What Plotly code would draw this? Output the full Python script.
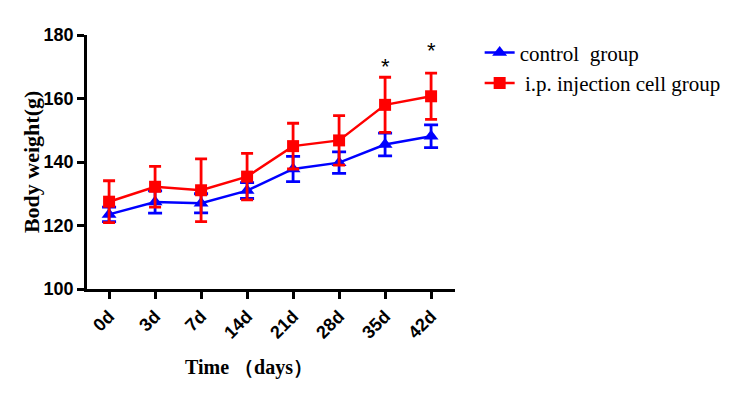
import plotly.graph_objects as go

days = ["0d", "3d", "7d", "14d", "21d", "28d", "35d", "42d"]
control_mean = [123.5, 127.4, 127.0, 131.0, 137.8, 139.8, 145.5, 148.1]
control_err = [2.3, 3.5, 3.0, 2.5, 4.0, 3.4, 3.6, 3.6]
ip_mean = [127.5, 132.2, 131.1, 135.4, 145.0, 146.8, 158.0, 160.7]
ip_err = [6.6, 6.4, 9.9, 7.3, 7.2, 7.8, 8.7, 7.3]
star_days = ["35d", "42d"]
star_y = [170.0, 175.2]

fig = go.Figure()
fig.add_trace(go.Scatter(
    x=days, y=control_mean, name="control  group", mode="lines+markers",
    line=dict(color="#0000FF", width=2.5),
    marker=dict(symbol="triangle-up", size=13, color="#0000FF"),
    error_y=dict(type="data", array=control_err, color="#0000FF", thickness=2.8, width=7),
))
fig.add_trace(go.Scatter(
    x=days, y=ip_mean, name=" i.p. injection cell group", mode="lines+markers",
    line=dict(color="#FF0000", width=2.5),
    marker=dict(symbol="square", size=12, color="#FF0000"),
    error_y=dict(type="data", array=ip_err, color="#FF0000", thickness=2.8, width=6),
))
for d, yv in zip(star_days, star_y):
    fig.add_annotation(x=d, y=yv, text="*", showarrow=False,
                       font=dict(family="Liberation Sans", size=22, color="black"))

fig.add_annotation(text="Body weight(g)", xref="paper", yref="paper",
                   x=-0.152, y=0.5, xanchor="center", yanchor="middle",
                   textangle=-90, showarrow=False,
                   font=dict(family="Liberation Serif", size=22, color="black", weight="bold"))
fig.add_annotation(text="Time （days）", xref="paper", yref="paper",
                   x=0.44, y=-0.311, xanchor="center", yanchor="middle",
                   showarrow=False,
                   font=dict(family="Liberation Serif", size=20, color="black", weight="bold"))

tickfont = dict(family="Liberation Sans", size=18, color="black", weight="bold")

fig.update_layout(
    width=730, height=390,
    margin=dict(l=79, r=283, t=27, b=109),
    paper_bgcolor="white", plot_bgcolor="white",
    showlegend=True,
    legend=dict(x=1.067, y=1.01, xanchor="left", yanchor="top",
                font=dict(family="Liberation Serif", size=21, color="black"),
                bgcolor="rgba(0,0,0,0)", tracegroupgap=0, itemwidth=30),
    xaxis=dict(
        range=[-0.48, 7.52], showline=True, linecolor="black", linewidth=2.5,
        ticks="outside", ticklen=7, tickwidth=2.5, tickcolor="black",
        tickangle=-45, tickfont=tickfont, showgrid=False, zeroline=False,
    ),
    yaxis=dict(
        range=[100, 180], tickvals=[100, 120, 140, 160, 180],
        showline=True, linecolor="black", linewidth=2.5,
        ticks="outside", ticklen=7, tickwidth=2.5, tickcolor="black",
        tickfont=tickfont, showgrid=False, zeroline=False,
    ),
)
fig.write_html("out.html")
